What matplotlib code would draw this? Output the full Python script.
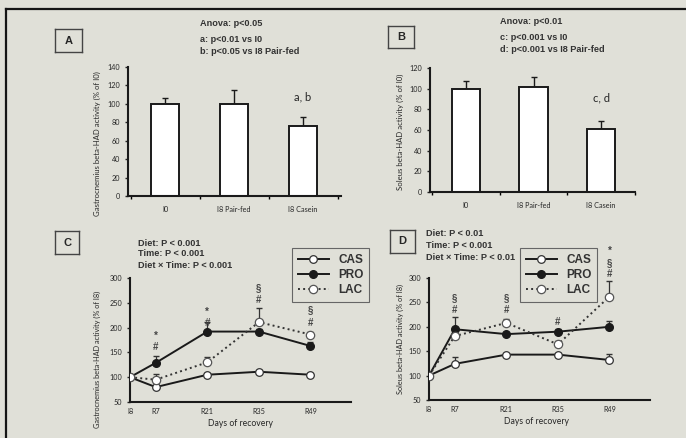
import numpy as np
import matplotlib
matplotlib.use("Agg")
import matplotlib.pyplot as plt
from matplotlib.lines import Line2D

# --- data -------------------------------------------------------------
bar_groups = ["I0", "I8 Pair-fed", "I8 Casein"]
gastro_mean = [100, 100, 76]
gastro_err = [6, 15, 10]
soleus_mean = [100, 102, 61]
soleus_err = [7, 9, 8]

days = [0, 7, 21, 35, 49]
day_labels = ["I8", "R7", "R21", "R35", "R49"]

gastro_cas = [100, 80, 105, 111, 105]
gastro_cas_err = [0, 3, 4, 3, 4]
gastro_pro = [100, 129, 192, 192, 163]
gastro_pro_err = [0, 13, 20, 6, 8]
gastro_lac = [100, 95, 130, 211, 186]
gastro_lac_err = [0, 12, 11, 29, 5]

soleus_cas = [100, 124, 143, 143, 132]
soleus_cas_err = [0, 14, 4, 4, 12]
soleus_pro = [100, 195, 185, 190, 200]
soleus_pro_err = [0, 25, 4, 5, 11]
soleus_lac = [100, 181, 208, 164, 262]
soleus_lac_err = [0, 5, 9, 6, 32]

# significance marks: (day, value, symbol)
gastro_marks = [(7, 183, "*"), (7, 161, "#"), (21, 232, "*"), (21, 209, "#"),
                (35, 280, "§"), (35, 256, "#"), (49, 236, "§"), (49, 210, "#")]
soleus_marks = [(7, 258, "§"), (7, 234, "#"), (21, 258, "§"), (21, 234, "#"),
                (35, 209, "#"), (49, 355, "*"), (49, 331, "§"), (49, 309, "#")]

# --- figure -----------------------------------------------------------
W, H = 686, 438
BG = "#e0e0d8"
TXT = "#262626"
BOLD = ["Liberation Sans", "DejaVu Sans"]
plt.rcParams["font.family"] = ["Lato", "DejaVu Sans"]

fig = plt.figure(figsize=(W / 100, H / 100), dpi=100, facecolor=BG)


def box(x0, y0, x1, y1):
    # pixel box -> figure fraction rect
    return [x0 / W, 1 - y1 / H, (x1 - x0) / W, (y1 - y0) / H]


def ftext(x, y, s, **kw):
    kw.setdefault("color", TXT)
    fig.text(x / W, 1 - y / H, s, **kw)


def btext(x, y, s):
    ftext(x, y, s, fontsize=6.6, fontweight="bold", va="center", family=BOLD, color="#333")


# outer frame (top and left)
fig.add_artist(Line2D([6 / W, 1], [1 - 9 / H, 1 - 9 / H], color="#151515", lw=1.6))
fig.add_artist(Line2D([6 / W, 6 / W], [0, 1 - 9 / H], color="#151515", lw=1.6))


def style_axes(ax):
    ax.set_facecolor(BG)
    for s in ["top", "right"]:
        ax.spines[s].set_visible(False)
    for s in ["left", "bottom"]:
        ax.spines[s].set_linewidth(1.5)
        ax.spines[s].set_color("#1a1a1a")
    ax.tick_params(axis="y", labelsize=5.2, length=2.5, width=1, colors=TXT, pad=3)


def bar_panel(rect, means, errs, xlim, ylim, yticks, bw, label, lab_pos):
    ax = fig.add_axes(rect)
    style_axes(ax)
    x = np.arange(len(bar_groups))
    ax.bar(x, means, width=bw, color="white", edgecolor="#1a1a1a", linewidth=1.4, zorder=2)
    ax.errorbar(x, means, yerr=[np.zeros(len(errs)), errs], fmt="none",
                ecolor="#1a1a1a", elinewidth=1, capsize=2, capthick=1, zorder=1)
    ax.set_xlim(*xlim)
    ax.set_ylim(*ylim)
    ax.set_yticks(yticks)
    ax.set_xticks(x)
    ax.set_xticklabels(bar_groups)
    ax.tick_params(axis="x", length=0, labelsize=5.2, colors=TXT, pad=7)
    ax.set_xticks(np.arange(len(bar_groups) + 1) - 0.5, minor=True)
    ax.tick_params(axis="x", which="minor", length=2.5, width=1)
    ftext(lab_pos[0], lab_pos[1], label, rotation=90, ha="center", va="center",
          fontsize=5.6)
    return ax


def line_panel(rect, cas, cas_e, pro, pro_e, lac, lac_e, marks, label, lab_pos, xl_pos):
    ax = fig.add_axes(rect)
    style_axes(ax)
    z = np.zeros(len(days))
    ax.errorbar(days, cas, yerr=[z, cas_e], fmt="none", ecolor="#333", elinewidth=0.9, capsize=2)
    ax.errorbar(days, pro, yerr=[z, pro_e], fmt="none", ecolor="#333", elinewidth=0.9, capsize=2)
    ax.errorbar(days, lac, yerr=[z, lac_e], fmt="none", ecolor="#333", elinewidth=0.9, capsize=2)
    ax.plot(days, cas, "-o", color="#1a1a1a", lw=1.4, ms=5.5, mfc="white", mec="#333",
            mew=0.9, label="CAS", zorder=3)
    ax.plot(days, pro, "-o", color="#1a1a1a", lw=1.4, ms=5.5, mfc="#1a1a1a", mec="#1a1a1a",
            label="PRO", zorder=4)
    ax.plot(days, lac, ":o", color="#333", lw=1.4, ms=6, mfc="white", mec="#555",
            mew=0.9, label="LAC", zorder=5)
    for d, v, s in marks:
        ax.text(d, v, s, ha="center", va="center", fontsize=7, fontweight="bold",
                color="#444", family=BOLD, clip_on=False)
    ax.set_xlim(0, 60)
    ax.set_ylim(50, 300)
    ax.set_yticks(range(50, 301, 50))
    ax.set_xticks(days)
    ax.set_xticklabels(day_labels)
    ax.tick_params(axis="x", length=0, labelsize=5.2, colors=TXT, pad=4)
    ftext(lab_pos[0], lab_pos[1], label, rotation=90, ha="center", va="center",
          fontsize=5.3)
    ftext(xl_pos[0], xl_pos[1], "Days of recovery", ha="center", va="center", fontsize=6.2)
    return ax


def panel_letter(x0, y0, x1, y1, s):
    ax = fig.add_axes(box(x0, y0, x1, y1))
    ax.set_xticks([])
    ax.set_yticks([])
    ax.set_facecolor(BG)
    for sp in ax.spines.values():
        sp.set_linewidth(1)
        sp.set_color("#444")
    ax.text(0.5, 0.5, s, ha="center", va="center", fontsize=8, fontweight="bold",
            color=TXT, family=BOLD, transform=ax.transAxes)


def legend(ax, x0, y0):
    ax.legend(loc="upper left", bbox_to_anchor=(x0 / W, 1 - y0 / H),
              bbox_transform=fig.transFigure, frameon=True, fancybox=False,
              edgecolor="#666", facecolor=BG, framealpha=1,
              prop={"size": 8.5, "weight": "bold", "family": BOLD}, handlelength=2.6,
              labelspacing=0.25, borderpad=0.5, handletextpad=0.8, borderaxespad=0,
              labelcolor="#333")
    ax.get_legend().get_frame().set_linewidth(0.8)


# Panel A
axA = bar_panel(box(128, 67, 341, 196), gastro_mean, gastro_err, (-0.54, 2.55), (0, 140),
                range(0, 141, 20), 0.41, "Gastrocnemius beta-HAD activity (% of I0)", (97, 144))
axA.text(2, 107, "a, b", ha="center", va="center", fontsize=8, color=TXT)
btext(200, 23, "Anova: p<0.05")
btext(200, 39, "a: p<0.01 vs I0")
btext(200, 51, "b: p<0.05 vs I8 Pair-fed")
panel_letter(55, 29, 82, 52, "A")

# Panel B
axB = bar_panel(box(430, 68, 635, 192), soleus_mean, soleus_err, (-0.53, 2.5), (0, 120),
                range(0, 121, 20), 0.42, "Soleus beta-HAD activity (% of I0)", (400, 132))
axB.text(2, 91, "c, d", ha="center", va="center", fontsize=8, color=TXT)
btext(500, 22, "Anova: p<0.01")
btext(500, 37, "c: p<0.001 vs I0")
btext(500, 50, "d: p<0.001 vs I8 Pair-fed")
panel_letter(388, 26, 414, 48, "B")

# Panel C
axC = line_panel(box(130, 278, 351, 402), gastro_cas, gastro_cas_err, gastro_pro,
                 gastro_pro_err, gastro_lac, gastro_lac_err, gastro_marks,
                 "Gastrocnemius beta-HAD activity (% of I8)", (97, 359), (240, 424))
btext(138, 243, "Diet: P < 0.001")
btext(138, 254, "Time: P < 0.001")
btext(138, 266, "Diet × Time: P < 0.001")
panel_letter(55, 231, 79, 254, "C")
legend(axC, 292, 248)

# Panel D
axD = line_panel(box(429, 278, 650, 400), soleus_cas, soleus_cas_err, soleus_pro,
                 soleus_pro_err, soleus_lac, soleus_lac_err, soleus_marks,
                 "Soleus beta-HAD activity (% of I8)", (400, 339), (536, 422))
btext(426, 234, "Diet: P < 0.01")
btext(426, 246, "Time: P < 0.001")
btext(426, 257, "Diet × Time: P < 0.01")
panel_letter(390, 230, 415, 253, "D")
legend(axD, 520, 248)

fig.savefig("out.png", dpi=100, facecolor=BG)
